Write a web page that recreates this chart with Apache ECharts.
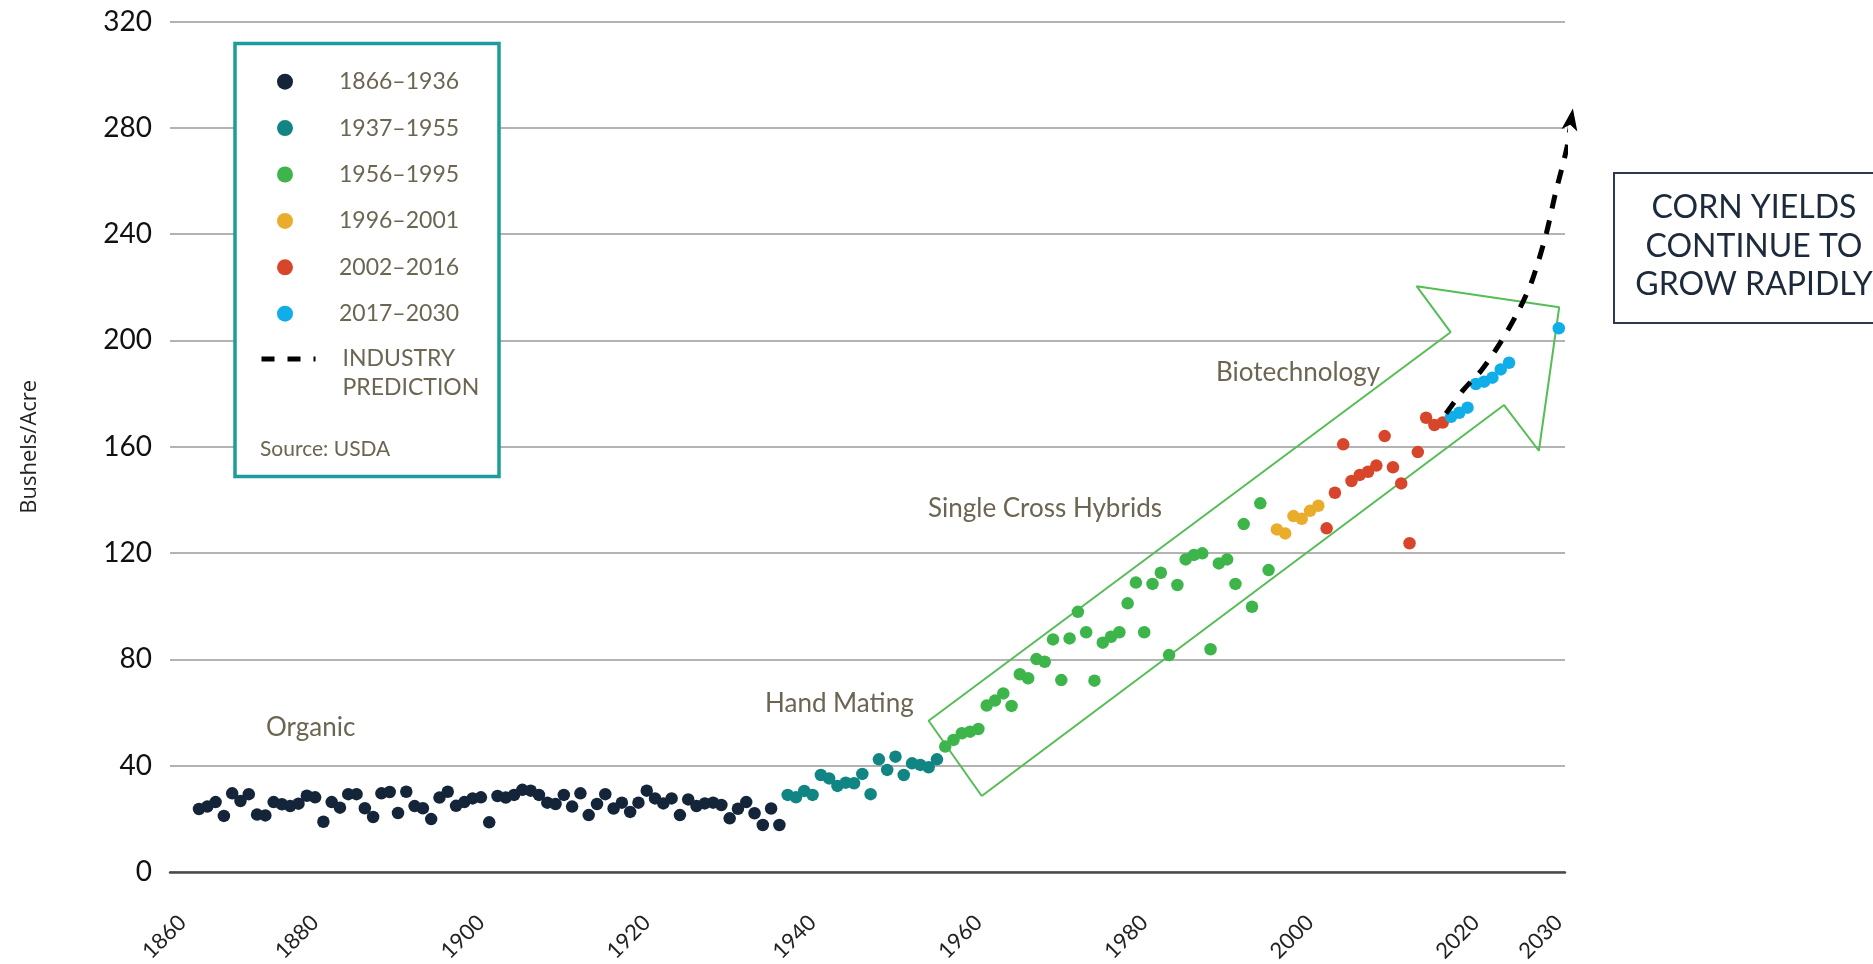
<!DOCTYPE html>
<html><head><meta charset="utf-8">
<script src="https://cdn.jsdelivr.net/npm/echarts@6/dist/echarts.min.js"></script>
<style>html,body{margin:0;padding:0;background:#fff}#c{width:1873px;height:964px}</style>
</head><body><div id="c"></div>
<script>
// ---------- data ----------
const periodNames = ['1866–1936', '1937–1955', '1956–1995', '1996–2001', '2002–2016', '2017–2030'];
const predictionName = 'INDUSTRY PREDICTION';

const yields1866to1936 = [
  23.7, 24.6, 26.3, 21.1, 29.6, 26.7, 29.3, 21.6, 21.3, 26.3,
  25.5, 24.8, 25.7, 28.7, 28.1, 18.9, 26.3, 24.2, 29.3, 29.3,
  24.0, 20.7, 29.6, 30.1, 22.2, 30.2, 24.8, 24.0, 19.9, 28.0,
  30.2, 24.9, 26.3, 27.7, 28.1, 18.7, 28.6, 28.0, 29.0, 30.9,
  30.6, 29.0, 26.1, 25.6, 29.0, 24.6, 29.6, 21.4, 25.6, 29.3,
  23.9, 26.1, 22.6, 26.1, 30.6, 27.7, 25.8, 27.7, 21.4, 27.3,
  24.8, 25.8, 26.1, 25.2, 20.2, 23.8, 26.3, 22.1, 17.7, 23.9, 17.7
];
const yields1937to1955 = [
  29.0, 28.1, 30.5, 29.0, 36.5, 35.2, 32.4, 33.6, 33.4, 36.9,
  29.3, 42.4, 38.4, 43.4, 36.5, 40.9, 40.3, 39.4, 42.4
];
const yields1956to1995 = [
  47.2, 49.7, 52.2, 52.8, 53.8, 62.6, 64.5, 67.2, 62.5, 74.4,
  72.9, 80.1, 79.1, 87.5, 72.2, 87.9, 97.9, 90.2, 72.0, 86.3,
  88.5, 90.2, 101.1, 108.9, 90.2, 108.4, 112.6, 81.6, 108.0, 117.6,
  119.3, 119.9, 83.8, 116.1, 117.6, 108.4, 130.9, 99.8, 138.7, 113.6
];
const yields1996to2001 = [128.9, 127.4, 133.9, 132.9, 135.9, 137.8];
const yields2002to2016 = [
  129.3, 142.7, 160.9, 147.1, 149.4, 150.6, 152.9, 164.0, 152.3, 146.2,
  123.7, 158.0, 170.9, 168.2, 169.1
];
const years2017to2030 = [2017, 2018, 2019, 2020, 2021, 2022, 2023, 2024, 2030];
const yields2017to2030 = [171.3, 172.8, 174.7, 183.6, 184.5, 186.0, 189.1, 191.6, 204.6];

// industry prediction curve [year, bushels/acre]
const predictionPath = [
  [2016.4, 172.5], [2018.5, 181.4], [2020.7, 188.9], [2022.9, 198.9], [2025.2, 211.5],
  [2026.8, 222.7], [2028.5, 240.3], [2029.6, 255.4], [2031.0, 272.9], [2031.7, 287.3]
];
// outline of the green trend arrow [year, bushels/acre]
const trendArrowOutline = [
  [1960.4, 28.6], [1954.0, 56.9], [2016.95, 203.1], [2012.85, 220.4], [2030.05, 212.5],
  [2027.6, 158.5], [2023.4, 175.7], [1960.4, 28.6]
];

const xTickLabels = [1860, 1880, 1900, 1920, 1940, 1960, 1980, 2000, 2020, 2030];
const yTickValues = [0, 40, 80, 120, 160, 200, 240, 280, 320];
const annotationTexts = ['Organic', 'Hand Mating', 'Single Cross Hybrids', 'Biotechnology'];
const calloutText = ['CORN YIELDS', 'CONTINUE TO', 'GROW RAPIDLY'];

// ---------- styling ----------
const periodColors = ['#14253a', '#108583', '#3db54a', '#e9ad2b', '#d7462a', '#10aee9'];
const olive = '#6b6552';
const X_MIN = 1862.5, X_MAX = 2030.75;

function yearly(start, vals) { return vals.map((v, i) => [start + i, v]); }
const periodData = [
  yearly(1866, yields1866to1936),
  yearly(1937, yields1937to1955),
  yearly(1956, yields1956to1995),
  yearly(1996, yields1996to2001),
  yearly(2002, yields2002to2016),
  years2017to2030.map((y, i) => [y, yields2017to2030[i]])
];

const chart = echarts.init(document.getElementById('c'), null, {renderer: 'canvas'});

const series = [];
series.push({
  name: 'trend', type: 'line', data: trendArrowOutline, symbol: 'none', silent: true,
  clip: false, z: 1, animation: false,
  lineStyle: {color: '#55bd55', width: 2}
});
periodNames.forEach((n, i) => {
  series.push({
    name: n, type: 'scatter', data: periodData[i], symbol: 'circle', symbolSize: 12.5,
    itemStyle: {color: periodColors[i], opacity: 1}, z: 3, animation: false, silent: true
  });
});
series.push({
  name: predictionName, type: 'line', symbol: 'none', showSymbol: true, clip: false,
  smooth: 0.3, z: 4, animation: false, silent: true,
  itemStyle: {color: '#000'},
  lineStyle: {color: '#000', width: 5, type: [14, 12], cap: 'butt'},
  data: predictionPath.map((p, i) => i === predictionPath.length - 1
    ? {value: p, symbol: 'arrow', symbolSize: [12, 22], symbolRotate: -9}
    : {value: p})
});

const labelPos = xTickLabels.map(y => Math.min(Math.max(y, X_MIN + 1.5), X_MAX));
const legendFont = {fontFamily: 'Lato', fontSize: 23, color: olive};

const option = {
  backgroundColor: '#fff',
  animation: false,
  grid: {left: 170, right: 308, top: 21.5, bottom: 92, containLabel: false, outerBoundsMode: 'none'},
  xAxis: {
    type: 'value', min: X_MIN, max: X_MAX,
    splitLine: {show: false},
    axisTick: {show: false},
    axisLine: {show: true, onZero: true, lineStyle: {color: '#4a4a4a', width: 2.5}},
    axisLabel: {
      customValues: labelPos,
      rotate: 45, margin: 47, fontFamily: 'Lato', fontSize: 22, color: '#222',
      formatter: (v) => {
        const i = labelPos.findIndex(p => Math.abs(p - v) < 1e-6);
        return i >= 0 ? String(xTickLabels[i]) : '';
      }
    }
  },
  yAxis: {
    type: 'value', min: yTickValues[0], max: yTickValues[yTickValues.length - 1], interval: 40,
    name: 'Bushels/Acre', nameLocation: 'middle', nameGap: 129,
    nameTextStyle: {fontFamily: 'Open Sans', fontSize: 22, color: '#222'},
    axisLine: {show: false}, axisTick: {show: false},
    axisLabel: {fontFamily: 'Lato', fontSize: 28, color: '#111', margin: 18},
    splitLine: {show: true, lineStyle: {color: '#9a9a9a', width: 1.5}}
  },
  legend: [
    {
      data: periodNames, orient: 'vertical', left: 277, top: 69.7, padding: 0,
      itemWidth: 54, itemHeight: 16, itemGap: 22.4, icon: 'circle', selectedMode: false, z: 6,
      formatter: (n) => '{t|' + n + '}',
      textStyle: Object.assign({lineHeight: 24, rich: {t: Object.assign({lineHeight: 24, padding: [0, 0, 0, 22]}, legendFont)}}, legendFont)
    },
    {
      data: [{name: predictionName, itemStyle: {opacity: 0}}],
      orient: 'vertical', left: 259, top: 315.5, padding: 0,
      itemWidth: 54, itemHeight: 16, selectedMode: false, z: 6,
      formatter: (n) => '{e| }\n' + n.split(' ').map(w => '{t|' + w + '}').join('\n'),
      lineStyle: {type: [13, 13], width: 5, color: '#000', cap: 'butt'},
      textStyle: Object.assign({lineHeight: 29, rich: {
        e: Object.assign({lineHeight: 29}, legendFont),
        t: Object.assign({lineHeight: 29, padding: [0, 0, 0, 22]}, legendFont)
      }}, legendFont)
    }
  ],
  graphic: [
    {type: 'rect', z: 5, silent: true, shape: {x: 235, y: 43.5, width: 264, height: 433},
     style: {fill: '#fff', stroke: '#1f9b9b', lineWidth: 3.5}},
    {type: 'text', z: 7, silent: true,
     style: {text: 'Source: USDA', x: 260, y: 449, verticalAlign: 'middle', fontFamily: 'Lato', fontSize: 21, fill: olive}},
    {type: 'rect', z: 5, silent: true, shape: {x: 1614, y: 173, width: 280, height: 150},
     style: {fill: '#fff', stroke: '#2a3b4f', lineWidth: 2}},
    {type: 'text', z: 7, silent: true,
     style: {text: calloutText.join('\n'), x: 1754, y: 246.5, align: 'center', verticalAlign: 'middle',
             fontFamily: 'Lato', fontSize: 32, lineHeight: 38.5, fill: '#1c2a3b'}},
    {type: 'text', z: 7, silent: true,
     style: {text: annotationTexts[0], x: 266, y: 728, verticalAlign: 'middle', fontFamily: 'Lato', fontSize: 26, fill: olive}},
    {type: 'text', z: 7, silent: true,
     style: {text: annotationTexts[1], x: 765, y: 704, verticalAlign: 'middle', fontFamily: 'Lato', fontSize: 26, fill: olive}},
    {type: 'text', z: 7, silent: true,
     style: {text: annotationTexts[2], x: 928, y: 509, verticalAlign: 'middle', fontFamily: 'Lato', fontSize: 26, fill: olive}},
    {type: 'text', z: 7, silent: true,
     style: {text: annotationTexts[3], x: 1216, y: 373, verticalAlign: 'middle', fontFamily: 'Lato', fontSize: 26, fill: olive}}
  ],
  series: series
};
chart.setOption(option);
</script>
</body></html>
